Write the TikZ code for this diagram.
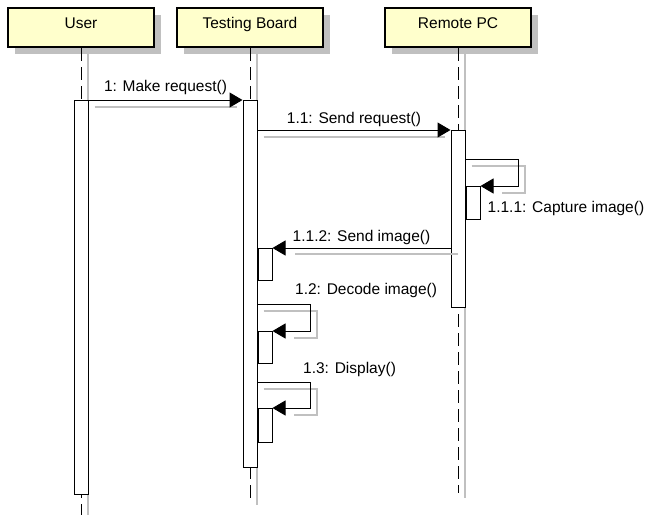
\documentclass[tikz,border=0pt]{standalone}
\usepackage{fontspec}
\setmainfont{Liberation Sans}
\usetikzlibrary{arrows.meta, shadows}
\definecolor{boxcolour}{RGB}{255,255,204}
\definecolor{shadecolour}{RGB}{192,192,192}
\tikzstyle{lifebox} = [rectangle, minimum width=146pt, inner ysep=5pt, text height=15pt, text depth=14pt, line width=2pt, draw=black, fill=boxcolour, general shadow={fill=shadecolour, shadow xshift=7pt, shadow yshift=-7pt}, font=\fontsize{15.5}{18}\selectfont]
\tikzstyle{lifeline} = [line width=1pt, dash pattern=on 13pt off 6pt]
\tikzstyle{lifeshade} = [draw=shadecolour, line width=1.5pt]
\tikzstyle{activation} = [rectangle, minimum width=14pt, inner sep=0pt, anchor=north, line width=1pt, draw=black, fill=white]
\tikzstyle{msg} = [line width=1pt, -{Triangle[length=13pt, width=15pt]}]
\tikzstyle{echo} = [draw=shadecolour, line width=2pt]
\tikzstyle{msglabel} = [inner sep=2pt, font=\fontsize{15.5}{18}\selectfont]

\begin{document}
\begin{tikzpicture}[x=1pt, y=-1pt]
	\useasboundingbox (0,0) rectangle (646,515);
	\node (user) [lifebox] at (81,27.5) {User};
	\node (board) [lifebox, right of=user, node distance=169pt] {Testing Board};
	\node (remote) [lifebox, right of=board, node distance=208pt] {Remote PC};
	
	\coordinate (userEnd) at (81,515);
	\coordinate (boardEnd) at (250,500);
	\coordinate (remoteEnd) at (458,493);
	\draw [lifeshade] ([xshift=7pt]user.south) -- ([xshift=7pt]userEnd);
	\draw [lifeshade] ([xshift=7pt]board.south) -- ([xshift=7pt, yshift=-5pt]boardEnd);
	\draw [lifeshade] ([xshift=7pt]remote.south) -- ([xshift=7pt, yshift=-5pt]remoteEnd);
	\draw [lifeline] (user.south) -- (userEnd);
	\draw [lifeline] (board.south) -- (boardEnd);
	\draw [lifeline] (remote.south) -- (remoteEnd);
	
	\node (actUser) [activation, minimum height=394pt] at (81,100) {};
	\node (actBoard) [activation, minimum height=367pt] at (250,100) {};
	\node (actRemote) [activation, minimum height=177pt] at (458,130) {};
	\node (actRemote1) [activation, minimum height=33pt, anchor=north west] at (actRemote.east |- 0,186) {};
	\node (actBoard1) [activation, minimum height=32pt, anchor=north west] at (actBoard.east |- 0,248) {};
	\node (actBoard2) [activation, minimum height=32pt, anchor=north west] at (actBoard.east |- 0,331) {};
	\node (actBoard3) [activation, minimum height=34pt, anchor=north west] at (actBoard.east |- 0,408) {};
	
	\draw [echo, transform canvas={yshift=-7pt}, shorten <=6pt, shorten >=6pt] (actUser.north east) -- (actBoard.north west);
	\draw [echo, transform canvas={yshift=-7pt}, shorten <=6pt, shorten >=6pt] (actBoard.east |- actRemote.north) -- (actRemote.north west);
	\draw [echo, transform canvas={shift={(6pt,-7pt)}}, shorten >=15pt] (actRemote.east |- 0,159) -- ++(53,0) |- (actRemote1.north east);
	\draw [echo, transform canvas={yshift=-6pt}, shorten <=-7pt, shorten >=22pt] (actRemote.west |- 0,248) -- (actBoard1.north east);
	\draw [echo, transform canvas={shift={(6pt,-7pt)}}, shorten >=15pt] (actBoard.east |- 0,304) -- ++(53,0) |- (actBoard2.north east);
	\draw [echo, transform canvas={shift={(6pt,-7pt)}}, shorten >=15pt] (actBoard.east |- 0,382) -- ++(53,0) |- (actBoard3.north east);
	
	\draw [msg] (actUser.north east) -- node [msglabel, above=3pt] {1: Make request()} (actBoard.north west);
	\draw [msg] (actBoard.east |- actRemote.north) -- node [msglabel, above=0.5pt] {1.1: Send request()} (actRemote.north west);
	\draw [msg] (actRemote.east |- 0,159) -- ++(53,0) |- (actRemote1.north east);
	\draw [msg] (actRemote.west |- 0,248) -- node [msglabel, above=0.5pt] {1.1.2: Send image()} (actBoard1.north east);
	\draw [msg] (actBoard.east |- 0,304) -- ++(53,0) |- (actBoard2.north east);
	\draw [msg] (actBoard.east |- 0,382) -- ++(53,0) |- (actBoard3.north east);
	
	\node (lblCapture) [msglabel, anchor=west] at ([xshift=5pt, yshift=-5.5pt]actRemote1.east) {1.1.1: Capture image()};
	\node (lblDecode) [msglabel, anchor=west] at (293,290) {1.2: Decode image()};
	\node (lblDisplay) [msglabel, anchor=west] at (301,369) {1.3: Display()};
\end{tikzpicture}
\end{document}
